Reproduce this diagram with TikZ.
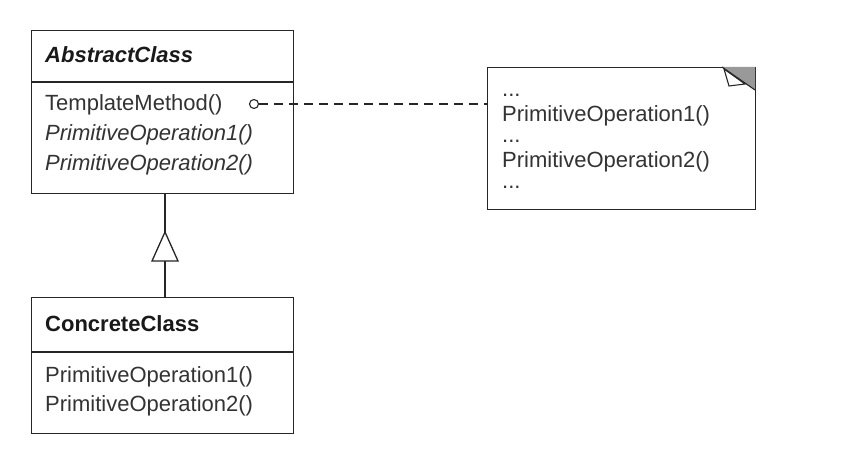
\documentclass[tikz,border=0pt]{standalone}
\usepackage{fontspec}
\setmainfont{Liberation Sans}
\begin{document}
\begin{tikzpicture}[x=1pt,y=-1pt,
  box/.style={draw=black!85,line width=1.3pt},
  txt/.style={anchor=west,inner sep=0pt,font=\fontsize{22}{24}\selectfont,text=black!80},
  ntxt/.style={anchor=base west,inner sep=0pt,font=\fontsize{22}{24}\selectfont,text=black!80},
  ttl/.style={anchor=west,inner sep=0pt,font=\fontsize{22}{24}\selectfont\bfseries,text=black!90},
  ln/.style={draw=black!85,line width=1.3pt}]
\useasboundingbox[fill=white] (0,0) rectangle (868,462);
% AbstractClass
\node[box,minimum width=262pt,minimum height=163pt,anchor=north west,inner sep=0pt] (abs) at (31,30) {};
\draw[ln] (31,82) -- (293,82);
\node[ttl,font=\fontsize{22}{24}\selectfont\bfseries\itshape] (absT) at (45,55) {AbstractClass};
\node[txt] (tm) at (45,105) {TemplateMethod()};
\node[txt,font=\fontsize{22}{24}\selectfont\itshape] (ap1) at (45,135) {PrimitiveOperation1()};
\node[txt,font=\fontsize{22}{24}\selectfont\itshape] (ap2) at (45,165) {PrimitiveOperation2()};
% ConcreteClass
\node[box,minimum width=262pt,minimum height=136pt,anchor=north west,inner sep=0pt] (con) at (31,297) {};
\draw[ln] (31,352) -- (293,352);
\node[ttl] (conT) at (45,324) {ConcreteClass};
\node[txt] (cp1) at (45,377) {PrimitiveOperation1()};
\node[txt] (cp2) at (45,406) {PrimitiveOperation2()};
% Note
\node[box,minimum width=268pt,minimum height=142pt,anchor=north west,inner sep=0pt] (note) at (487,67) {};
\fill[black!40] (722,67) -- (755,67) -- (755,90) -- cycle;
\draw[line width=1.1pt,black!85] (722,67) -- (755,90);
\draw[line width=1.1pt,black!85,fill=white] (724,69) -- (729,86) -- (745,84) -- cycle;
\node[ntxt] (n0) at (502,97) {...};
\node[ntxt] (n1) at (502,122) {PrimitiveOperation1()};
\node[ntxt] (n2) at (502,143) {...};
\node[ntxt] (n3) at (502,168) {PrimitiveOperation2()};
\node[ntxt] (n4) at (502,189) {...};
% dashed link
\node[circle,draw=black!85,line width=1.1pt,minimum size=9pt,inner sep=0pt] (circ) at (254,104) {};
\draw[ln,dash pattern=on 9pt off 6pt] (circ.east) -- (note.west |- circ.east);
% generalization
\coordinate (apex) at (165,232);
\draw[ln] (abs.south -| apex) -- (apex);
\draw[ln,fill=white] (apex) -- (152,261) -- (178,261) -- cycle;
\draw[ln] (165,261) -- (con.north -| apex);
\end{tikzpicture}
\end{document}
